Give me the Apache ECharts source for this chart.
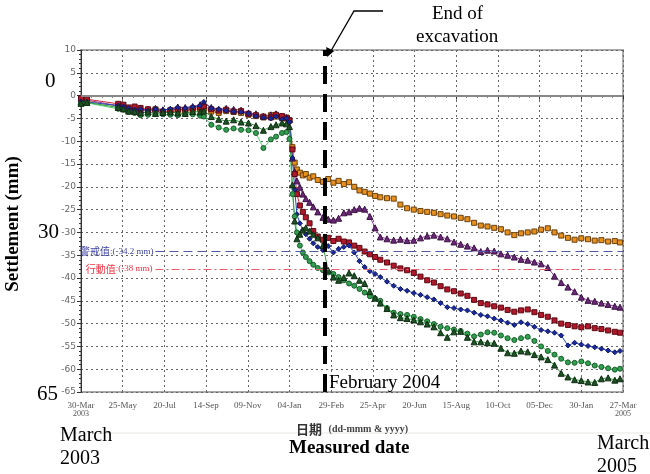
<!DOCTYPE html>
<html><head><meta charset="utf-8">
<script src="https://cdn.jsdelivr.net/npm/echarts@6/dist/echarts.min.js"></script>
<style>html,body{margin:0;padding:0;background:#fff}#c{width:650px;height:474px}</style>
</head><body><div id="c"></div>
<script>
// x tick labels (every 56 days from 30-Mar-2003)
const xTickLabels = ['30-Mar','25-May','20-Jul','14-Sep','09-Nov','04-Jan','29-Feb','25-Apr','20-Jun','15-Aug','10-Oct','05-Dec','30-Jan','27-Mar'];
const xTickYears = ['2003','','','','','','','','','','','','','2005'];
const yTicks = [10,5,0,-5,-10,-15,-20,-25,-30,-35,-40,-45,-50,-55,-60,-65];

// measurement dates, days after 30-Mar-2003
const measureDays = [0,8,50,57,64,72,80,90,100,110,120,130,140,150,160,165,175,185,195,205,215,225,235,245,255,262,270,276,280,
 284,287,290,294,298,302,307,312,318,325,332,339,346,353,360,367,374,381,388,395,402,
 411,420,429,438,447,456,465,474,483,492,501,510,519,528,537,546,555,564,573,582,591,600,609,618,627,636,645,654,663,672,681,690,699,708,717,724];

const orangeSq = [-1.5,-1.2,-2.4,-2.6,-3.2,-3.0,-3.4,-3.2,-3.0,-3.5,-3.6,-3.3,-3.5,-3.2,-3.0,-2.8,-3.5,-3.8,-3.4,-3.6,-3.8,-4.2,-4.5,-4.8,-4.3,-4.6,-5.0,-4.8,-5.5,
 -11.3,-14.7,-16.2,-16.9,-17.5,-17.2,-18.0,-17.7,-18.5,-18.9,-18.3,-19.1,-18.7,-19.4,-19.0,-20.0,-20.8,-21.1,-21.5,-22.0,-22.3,
 -22.5,-22.6,-23.9,-24.7,-25.0,-25.3,-25.5,-25.7,-26.0,-26.3,-26.5,-26.8,-27.1,-27.9,-28.5,-28.7,-29.0,-29.3,-30.0,-30.6,
 -30.2,-30.0,-29.8,-29.4,-29.1,-30.0,-30.7,-31.2,-31.6,-31.3,-31.5,-31.8,-31.7,-32.0,-31.9,-32.2];
const purpleTri = [-1.4,-1.0,-2.2,-2.5,-3.0,-2.8,-3.2,-3.0,-2.8,-3.1,-3.0,-2.5,-2.6,-2.4,-2.0,-1.6,-2.6,-3.0,-2.8,-3.0,-3.2,-3.8,-4.0,-4.5,-4.2,-4.0,-4.6,-4.8,-5.2,
 -13.7,-16.7,-18.7,-20.1,-21.6,-22.6,-23.4,-24.4,-25.5,-26.7,-27.1,-27.3,-26.9,-25.7,-25.5,-25.0,-24.7,-24.9,-26.5,-29.0,-31.0,
 -31.4,-31.7,-31.5,-31.8,-31.7,-31.2,-30.8,-30.6,-31.0,-31.4,-32.1,-32.6,-33.0,-33.4,-34.2,-33.9,-34.1,-34.7,-35.0,-35.4,
 -35.9,-36.1,-36.5,-36.9,-37.7,-39.6,-41.0,-42.0,-43.0,-44.2,-44.9,-45.1,-45.5,-45.8,-46.2,-46.4];
const redSq = [-0.6,-0.8,-1.8,-2.0,-2.6,-2.4,-2.7,-3.0,-3.2,-3.6,-3.2,-3.0,-3.1,-2.8,-2.6,-2.4,-3.0,-3.3,-3.1,-3.5,-3.4,-4.0,-4.3,-4.6,-4.8,-4.2,-4.5,-5.0,-5.4,
 -11.8,-17.2,-21.6,-24.1,-25.5,-26.7,-28.0,-29.7,-30.9,-31.6,-31.2,-31.9,-31.4,-32.0,-32.2,-32.9,-33.4,-34.2,-34.8,-35.4,-36.0,
 -36.6,-37.3,-37.9,-38.3,-38.9,-39.7,-40.5,-41.0,-41.8,-42.5,-42.9,-43.4,-43.9,-44.8,-45.5,-45.8,-46.2,-46.5,-47.0,-47.4,
 -47.1,-46.9,-47.5,-48.1,-48.5,-49.3,-50.0,-50.3,-50.6,-50.8,-50.6,-51.0,-51.2,-51.5,-51.8,-52.0];
const blueDot = [-1.3,-1.4,-2.2,-2.4,-2.8,-3.1,-3.0,-3.3,-3.0,-3.2,-2.9,-2.6,-2.8,-2.5,-2.2,-1.4,-2.8,-3.0,-3.3,-3.5,-3.6,-3.9,-4.5,-4.8,-5.0,-4.6,-5.2,-5.0,-5.8,
 -13.7,-20.6,-26.0,-28.0,-29.5,-30.4,-31.4,-32.4,-33.2,-33.9,-33.0,-34.4,-33.6,-33.2,-32.9,-34.4,-36.3,-37.6,-38.5,-39.1,-39.8,
 -40.8,-41.7,-42.4,-42.8,-43.3,-43.7,-44.2,-44.7,-45.5,-46.4,-46.6,-46.9,-47.1,-47.6,-48.1,-48.4,-48.9,-49.3,-49.8,-50.3,
 -49.7,-50.1,-50.7,-51.4,-51.7,-52.0,-52.6,-54.8,-54.2,-54.6,-54.9,-55.2,-55.5,-55.9,-56.3,-56.0];
const greenCirc = [-1.8,-1.6,-2.9,-3.1,-3.6,-3.8,-4.3,-4.2,-4.0,-4.1,-4.2,-4.3,-4.0,-4.1,-4.4,-4.6,-6.4,-7.0,-7.5,-7.2,-7.5,-7.6,-8.2,-11.5,-9.6,-9.0,-8.2,-8.0,-9.5,
 -21.6,-26.5,-30.0,-32.9,-34.4,-35.4,-36.3,-37.1,-37.8,-38.3,-38.8,-39.1,-39.8,-40.5,-41.2,-41.7,-42.4,-43.2,-44.0,-44.5,-45.0,
 -46.6,-47.6,-47.9,-48.1,-48.5,-49.0,-49.5,-50.1,-50.7,-51.0,-51.3,-51.6,-52.2,-52.8,-52.4,-51.9,-52.0,-52.6,-53.2,-53.6,
 -53.2,-52.9,-53.8,-55.0,-56.0,-56.8,-57.7,-58.5,-58.6,-58.3,-58.7,-59.2,-59.5,-59.8,-60.1,-59.9];
const darkGreenTri = [-1.7,-1.5,-2.6,-2.9,-3.4,-3.5,-3.8,-3.6,-3.9,-3.7,-3.6,-3.8,-3.9,-3.5,-3.6,-3.4,-4.6,-5.2,-5.6,-5.3,-5.8,-6.0,-6.6,-7.6,-6.8,-6.4,-6.0,-6.2,-6.8,
 -19.6,-27.5,-31.4,-30.4,-29.5,-29.0,-29.7,-30.4,-31.2,-32.9,-38.3,-39.8,-40.5,-39.9,-38.9,-39.5,-40.5,-41.2,-43.0,-44.4,-45.5,
 -46.7,-48.1,-48.7,-48.9,-49.2,-49.6,-50.1,-50.7,-52.0,-53.0,-51.8,-51.7,-53.0,-54.0,-54.0,-54.2,-54.3,-55.4,-56.4,-56.5,
 -56.0,-56.2,-56.8,-57.3,-57.9,-59.1,-60.9,-61.7,-62.3,-62.5,-62.8,-62.9,-62.1,-61.9,-62.4,-62.1];

const alertLevel = -34.2;   // 警戒值
const actionLevel = -38;    // 行動值
const excavationEndDay = 328;

const pair = v => measureDays.map((d,i)=>[d, v[i]]);
function mk(name, vals, symbol, fill, border, lineColor, size){
  return {name, type:'line', data: pair(vals), symbol, symbolSize:size,
    itemStyle:{color:fill, borderColor:border, borderWidth:1},
    lineStyle:{color:lineColor, width:1}, z:3, animation:false};
}

const chart = echarts.init(document.getElementById('c'));
const serif = '"Liberation Serif","Times New Roman",serif';
const option = {
  animation:false,
  grid:{left:81, right:27, top:50, bottom:82, show:true, borderColor:'#aaa', borderWidth:2},
  xAxis:{type:'value', min:0, max:728, interval:56,
    axisLine:{show:true, lineStyle:{color:'#333', width:1}},
    axisTick:{show:true, length:4, lineStyle:{color:'#333'}},
    minorTick:{show:true, splitNumber:4, length:2, lineStyle:{color:'#333'}},
    splitLine:{show:true, lineStyle:{color:'#666', type:[2,3], width:1}},
    axisLabel:{fontSize:9, color:'#555', fontFamily:'"Liberation Serif", serif', margin:9,
      formatter:(v)=>{const i=Math.round(v/56); const y=xTickYears[i]; return y? xTickLabels[i]+'\n{y|'+y+'}' : xTickLabels[i];},
      rich:{y:{fontSize:8, color:'#555'}}},
    name:'{a|日期}  {b|(dd-mmm & yyyy)}', nameLocation:'middle', nameGap:30,
    nameTextStyle:{rich:{a:{fontSize:13, fontWeight:'bold', color:'#333', fontFamily:'"Noto Sans CJK TC",sans-serif'}, b:{fontSize:10, fontWeight:'bold', color:'#444', fontFamily:'"Liberation Serif",serif'}}}
  },
  yAxis:{type:'value', min:-65, max:10, interval:5,
    axisLine:{show:true, lineStyle:{color:'#333', width:1}},
    axisTick:{show:true, length:4, lineStyle:{color:'#333'}},
    minorTick:{show:true, splitNumber:5, length:2, lineStyle:{color:'#333'}},
    splitLine:{show:true, lineStyle:{color:'#666', type:[2,3], width:1}},
    axisLabel:{fontSize:9, color:'#666', margin:5, fontFamily:'"DejaVu Sans", sans-serif'}
  },
  series:[
    {name:'ref', type:'line', data:[], z:1, silent:true,
     markLine:{symbol:'none', silent:true, animation:false, data:[
       [{coord:[0,0], lineStyle:{color:'#888', width:2, type:'solid'}, label:{show:false}},{coord:[728,0]}],
       [{coord:[100,alertLevel], lineStyle:{color:'#5058a8', width:1.2, type:[9,5]},
         label:{show:true, position:'start', formatter:'{c|警戒值}{t|:(-34.2 mm)}', distance:2,
           rich:{c:{fontSize:10, color:'#3a3fa0', fontFamily:'"Noto Sans CJK TC",sans-serif'}, t:{fontSize:9, color:'#3a3fa0', fontFamily:'"Liberation Serif",serif'}}}},{coord:[728,alertLevel]}],
       [{coord:[100,actionLevel], lineStyle:{color:'#e86070', width:1, type:[8,3,2,3]},
         label:{show:true, position:'start', formatter:'{c|行動值}{t|:(-38 mm)}', distance:3,
           rich:{c:{fontSize:10, color:'#f03040', fontFamily:'"Noto Sans CJK TC",sans-serif'}, t:{fontSize:9, color:'#f03040', fontFamily:'"Liberation Serif",serif'}}}},{coord:[728,actionLevel]}]
     ]}},
    mk('S1', orangeSq, 'rect', '#e8901c', '#6a4010', '#e8a040', 5),
    mk('S2', purpleTri, 'triangle', '#6a2878', '#3a1040', '#8a40a0', 6),
    mk('S3', redSq, 'rect', '#b0182c', '#5a0a12', '#d02838', 5),
    mk('S4', blueDot, 'diamond', '#1c2a9c', '#0c1460', '#2848c8', 5),
    mk('S5', greenCirc, 'circle', '#30a050', '#1a5a2a', '#50d070', 5),
    mk('S6', darkGreenTri, 'triangle', '#1e5224', '#0e2a12', '#30a040', 6),
    {name:'exc', type:'line', data:[], z:10, silent:true,
     markLine:{symbol:'none', silent:true, animation:false, label:{show:false},
       lineStyle:{color:'#000', width:4, type:[18,10]},
       data:[{xAxis:excavationEndDay}]}}
  ]
};
chart.setOption(option);

const tip = chart.convertToPixel({gridIndex:0}, [excavationEndDay, 10]);
const T = (text, x, y, size, bold) => ({type:'text', left:x, top:y, z:20, style:{text, font:(bold?'bold ':'')+size+'px '+serif, fill:'#000'}});
chart.setOption({graphic:[
  {type:'line', shape:{x1:60, y1:433, x2:650, y2:433}, style:{stroke:'#e6e6e0', lineWidth:1}},
  {type:'polyline', shape:{points:[[383,11],[354,11],[tip[0]+4,tip[1]+4]]}, style:{stroke:'#000', lineWidth:1.3, fill:null}},
  {type:'polygon', shape:{points:[[tip[0]+2,tip[1]+7],[tip[0]+1,tip[1]-3],[tip[0]+9,tip[1]+1]]}, style:{fill:'#000'}},
  T('End of', 432, 5, 19),
  T('excavation', 416, 28, 19),
  T('0', 45, 71, 21),
  T('30', 38, 222, 21),
  T('65', 37, 384, 21),
  T('February 2004', 329, 374, 19),
  T('Measured date', 289, 439, 19, true),
  T('March', 60, 426, 20),
  T('2003', 60, 449, 20),
  T('March', 597, 434, 20),
  T('2005', 597, 457, 20),
  {type:'text', x:13, y:224, rotation:Math.PI/2, z:20, style:{text:'Settlement (mm)', font:'bold 19px '+serif, fill:'#000', textAlign:'center', textVerticalAlign:'middle'}}
]});
</script></body></html>
